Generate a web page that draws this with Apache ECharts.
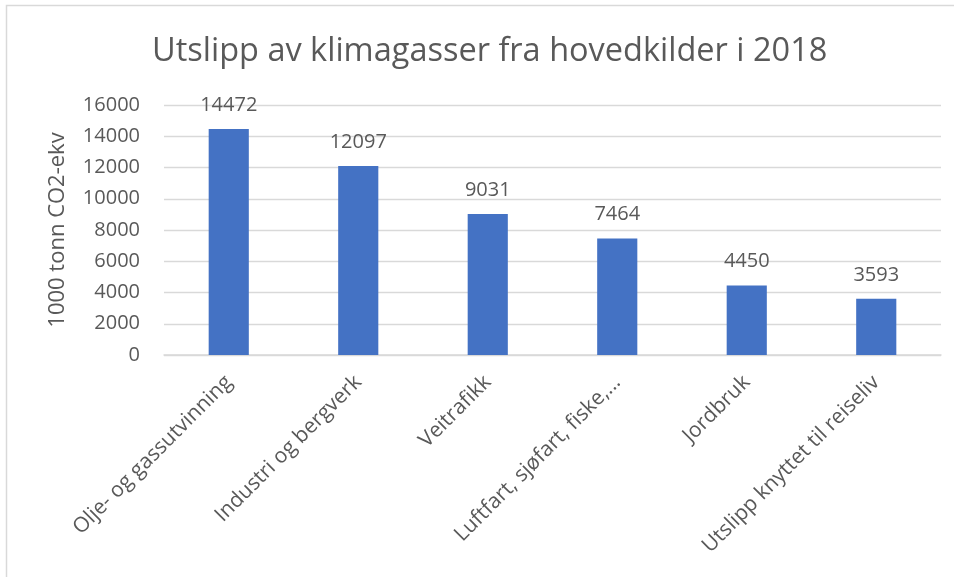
<!DOCTYPE html>
<html>
<head>
<meta charset="utf-8">
<script src="https://cdn.jsdelivr.net/npm/echarts@6/dist/echarts.min.js"></script>
<style>
html,body{margin:0;padding:0;background:#fff;}
#main{width:954px;height:577px;}
</style>
</head>
<body>
<div id="main"></div>
<script>
// kategorier og verdier
var categories = ['Olje- og gassutvinning', 'Industri og bergverk', 'Veitrafikk', 'Luftfart, sjøfart, fiske,...', 'Jordbruk', 'Utslipp knyttet til reiseliv'];
var values = [14472, 12097, 9031, 7464, 4450, 3593];
var yTicks = [0, 2000, 4000, 6000, 8000, 10000, 12000, 14000, 16000];

var font = '"Open Sans", "Liberation Sans", sans-serif';
var txt = '#595959';

var chart = echarts.init(document.getElementById('main'));
var option = {
	animation: false,
	title: {
		text: 'Utslipp av klimagasser fra hovedkilder i 2018',
		left: 147,
		top: 30,
		textStyle: {fontFamily: font, fontSize: 32.5, fontWeight: 'normal', color: txt}
	},
	graphic: [{
		type: 'rect',
		shape: {x: 6.5, y: 5.5, width: 1000, height: 1000},
		style: {fill: 'none', stroke: '#d9d9d9', lineWidth: 1.5}
	}],
	grid: {left: 164, right: 13, top: 105, bottom: 222},
	xAxis: {
		type: 'category',
		data: categories,
		axisLine: {lineStyle: {color: '#d9d9d9', width: 1.5}},
		axisTick: {show: false},
		axisLabel: {
			rotate: 45,
			interval: 0,
			margin: 24,
			fontFamily: font,
			fontSize: 21,
			color: txt
		}
	},
	yAxis: {
		type: 'value',
		min: yTicks[0],
		max: yTicks[yTicks.length - 1],
		interval: 2000,
		name: '1000 tonn CO2-ekv',
		nameLocation: 'middle',
		nameGap: 95,
		nameTextStyle: {fontFamily: font, fontSize: 22, color: txt},
		axisLine: {show: false},
		axisTick: {show: false},
		axisLabel: {fontFamily: font, fontSize: 20, color: txt, margin: 24, formatter: function(v){ return String(v); }},
		splitLine: {lineStyle: {color: '#d9d9d9', width: 1.3}}
	},
	series: [{
		type: 'bar',
		data: values,
		barWidth: '31%',
		itemStyle: {color: '#4472c4'},
		label: {
			show: true,
			position: 'top',
			distance: 14,
			fontFamily: font,
			fontSize: 20,
			color: txt
		}
	}]
};
chart.setOption(option);
</script>
</body>
</html>
